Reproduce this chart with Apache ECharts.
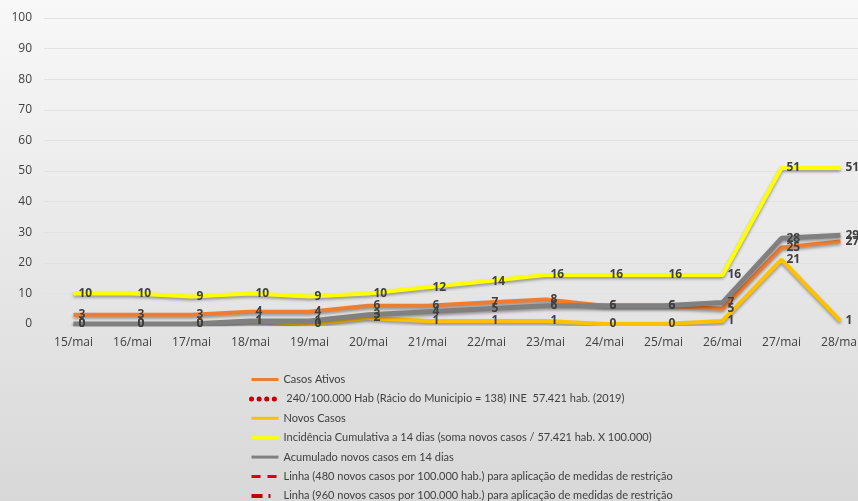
<!DOCTYPE html>
<html><head><meta charset="utf-8">
<script src="https://cdn.jsdelivr.net/npm/echarts@6/dist/echarts.min.js"></script>
<style>html,body{margin:0;padding:0;overflow:hidden;width:858px;height:501px;}#c{width:870px;height:501px;}</style>
</head><body><div id="c"></div>
<script>
const categories = ['15/mai','16/mai','17/mai','18/mai','19/mai','20/mai','21/mai','22/mai','23/mai','24/mai','25/mai','26/mai','27/mai','28/mai'];
const casosAtivos = [3,3,3,4,4,6,6,7,8,6,6,5,25,27];
const racio240 = [138,138,138,138,138,138,138,138,138,138,138,138,138,138];
const novosCasos = [0,0,0,1,0,2,1,1,1,0,0,1,21,1];
const incidencia = [10,10,9,10,9,10,12,14,16,16,16,16,51,51];
const acumulado = [0,0,0,1,1,3,4,5,6,6,6,7,28,29];
const linha480 = [276,276,276,276,276,276,276,276,276,276,276,276,276,276];
const linha960 = [551,551,551,551,551,551,551,551,551,551,551,551,551,551];
const yTicks = {min:0, max:100, interval:10};

const names = [
  'Casos Ativos',
  ' 240/100.000 Hab (Rácio do Municipio = 138) INE  57.421 hab. (2019)',
  'Novos Casos',
  'Incidência Cumulativa a 14 dias (soma novos casos / 57.421 hab. X 100.000)',
  'Acumulado novos casos em 14 dias',
  'Linha (480 novos casos por 100.000 hab.) para aplicação de medidas de restrição',
  'Linha (960 novos casos por 100.000 hab.) para aplicação de medidas de restrição'
];
const legendWidths = [3, 5, 3, 3, 3, 3, 4];
const FONT = 'Open Sans';
function labelCfg(){
  return {show:true, position:'right', distance:5, color:'#404040', fontSize:12, fontWeight:'bold', fontFamily:FONT};
}
function mainSeries(name, data, color, width){
  return {
    name, type:'line', data, symbol:'circle', symbolSize:0, showSymbol:true, z:2,
    lineStyle:{color, width, shadowColor:'rgba(0,0,0,0.35)', shadowBlur:3, shadowOffsetY:2},
    itemStyle:{color},
    label:labelCfg()
  };
}
function refSeries(name, data, color, type, width, cap){
  return {
    name, type:'line', data, symbol:'circle', symbolSize:0, clip:true,
    lineStyle:{color, width, type, cap:cap||'butt'}, itemStyle:{color}, label:{show:false}
  };
}
const chart = echarts.init(document.getElementById('c'));
chart.setOption({
  animation:false,
  backgroundColor:{type:'linear', x:0, y:0, x2:0, y2:1, colorStops:[{offset:0,color:'#f8f8f8'},{offset:1,color:'#d8d8d8'}]},
  grid:{left:44, right:0, top:18, bottom:177, containLabel:false},
  xAxis:{type:'category', data:categories, boundaryGap:true,
    axisLine:{show:false}, axisTick:{show:false},
    axisLabel:{color:'#404040', fontSize:12, fontFamily:FONT, margin:13}},
  yAxis:{type:'value', min:yTicks.min, max:yTicks.max, interval:yTicks.interval,
    axisLine:{show:false}, axisTick:{show:false},
    axisLabel:{color:'#404040', fontSize:12, fontFamily:FONT, margin:12},
    splitLine:{lineStyle:{color:'#e2e2e2', width:1}}},
  legend:{orient:'vertical', left:249, top:374, height:200, padding:0, itemWidth:27, itemHeight:12, itemGap:8.4,
    itemStyle:{opacity:0},
    textStyle:{color:'#404040', fontSize:11, fontFamily:'Lato'},
    data:names.map((n,i)=>({name:n, lineStyle:{width:legendWidths[i]}}))},
  series:[
    mainSeries(names[0], casosAtivos, '#ed7d31', 4),
    refSeries(names[1], racio240, '#c00000', [0.1,7.5], 5, 'round'),
    mainSeries(names[2], novosCasos, '#ffc000', 4),
    mainSeries(names[3], incidencia, '#ffff00', 4),
    mainSeries(names[4], acumulado, '#808080', 5),
    refSeries(names[5], linha480, '#e00000', [9,7], 3),
    refSeries(names[6], linha960, '#c00000', [11,6,2,8], 4)
  ]
});
</script></body></html>
